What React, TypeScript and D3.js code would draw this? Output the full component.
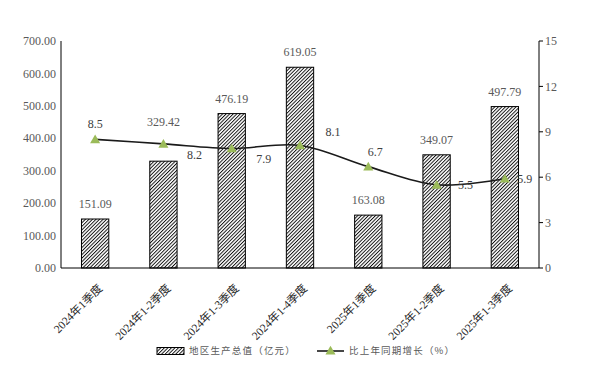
import React from 'react';
import * as d3 from 'd3';

const categories = ['2024年1季度', '2024年1-2季度', '2024年1-3季度', '2024年1-4季度', '2025年1季度', '2025年1-2季度', '2025年1-3季度'];
const gdpValues = [151.09, 329.42, 476.19, 619.05, 163.08, 349.07, 497.79];
const growthValues = [8.5, 8.2, 7.9, 8.1, 6.7, 5.5, 5.9];
const leftTicks = [0, 100, 200, 300, 400, 500, 600, 700];
const rightTicks = [0, 3, 6, 9, 12, 15];
const barSeriesName = '地区生产总值（亿元）';
const lineSeriesName = '比上年同期增长（%）';

// label nudges (layout only): growth labels as (dx, dy) from the point,
// bar labels as the baseline gap above the bar top
const growthLabelOffsets: [number, number][] = [
  [0, -16], [31, 11], [32, 10], [33, -14], [7, -15], [29, 0], [20, 0],
];
const barLabelGaps = [11, 35, 11, 11, 11, 11, 11];

const W = 590;
const H = 386;
const margin = { left: 61, right: 51, top: 41, bottom: 118 };
const serif = '"Liberation Serif", "Times New Roman", "Noto Sans CJK SC", serif';
const cjk = '"Noto Sans CJK SC", sans-serif';

export default function App() {
  const x0 = margin.left;
  const x1 = W - margin.right;
  const yTop = margin.top;
  const yBottom = H - margin.bottom;

  const x = d3.scaleBand<string>().domain(categories).range([x0, x1]).paddingInner(0.6).paddingOuter(0.3);
  const yLeft = d3.scaleLinear().domain([0, 700]).range([yBottom, yTop]);
  const yRight = d3.scaleLinear().domain([0, 15]).range([yBottom, yTop]);
  const cx = (c: string) => (x(c) ?? 0) + x.bandwidth() / 2;

  const line = d3.line<number>()
    .x((_, i) => cx(categories[i]))
    .y(d => yRight(d))
    .curve(d3.curveCatmullRom.alpha(0.5));

  const tri = d3.symbol().type(d3.symbolTriangle).size(44)();

  return (
    <svg width={W} height={H} style={{ position: 'absolute', left: 0, top: 0, background: '#fff' }}>
      <defs>
        <pattern id="hatch" width="2.5" height="2.5" patternUnits="userSpaceOnUse" patternTransform="rotate(45)">
          <rect width="2.5" height="2.5" fill="#fff" />
          <line x1="0.5" y1="0" x2="0.5" y2="2.5" stroke="#000" strokeWidth="0.9" />
        </pattern>
      </defs>

      {/* left axis labels */}
      {leftTicks.map(t => (
        <text key={'l' + t} x={x0 - 5} y={yLeft(t)} dy="0.35em" textAnchor="end"
          fontFamily={serif} fontSize={12} fill="#595959">{t.toFixed(2)}</text>
      ))}
      {/* right axis */}
      {rightTicks.map(t => (
        <g key={'r' + t}>
          <line x1={x1} x2={x1 + 4} y1={yRight(t)} y2={yRight(t)} stroke="#000" />
          <text x={x1 + 6} y={yRight(t)} dy="0.35em" fontFamily={serif} fontSize={12} fill="#595959">{t}</text>
        </g>
      ))}

      {/* bars */}
      {gdpValues.map((v, i) => (
        <g key={'b' + i}>
          <rect x={x(categories[i])} y={yLeft(v)} width={x.bandwidth()} height={yBottom - yLeft(v)}
            fill="url(#hatch)" stroke="#000" strokeWidth={1} />
          <text x={cx(categories[i])} y={yLeft(v) - barLabelGaps[i]} textAnchor="middle"
            fontFamily={serif} fontSize={12} fill="#595959">{v.toFixed(2)}</text>
        </g>
      ))}

      {/* axis lines */}
      <line x1={x0} x2={x0} y1={yTop} y2={yBottom} stroke="#000" />
      <line x1={x1} x2={x1} y1={yTop} y2={yBottom} stroke="#000" />
      <line x1={x0} x2={x1} y1={yBottom} y2={yBottom} stroke="#000" />

      {/* growth line */}
      <path d={line(growthValues) ?? ''} fill="none" stroke="#1a1a1a" strokeWidth={1.6} />
      {growthValues.map((v, i) => (
        <path key={'m' + i} d={tri ?? ''} transform={`translate(${cx(categories[i])},${yRight(v) + 1})`} fill="#9BBB59" />
      ))}
      {growthValues.map((v, i) => (
        <text key={'g' + i} x={cx(categories[i]) + growthLabelOffsets[i][0]} y={yRight(v) + growthLabelOffsets[i][1]}
          dy="0.35em" textAnchor="middle" fontFamily={serif} fontSize={12} fill="#404040">{v}</text>
      ))}

      {/* category labels */}
      {categories.map(c => (
        <text key={c} transform={`translate(${cx(c) + 8},${yBottom + 21}) rotate(-45)`} textAnchor="end"
          fontFamily={serif} fontSize={11.5} fill="#262626">{c}</text>
      ))}

      {/* legend */}
      <g transform="translate(157,351)">
        <rect x={0} y={-3.5} width={27} height={7} fill="url(#hatch)" stroke="#000" strokeWidth={1} />
        <text x={32} y={0} dy="0.35em" fontFamily={cjk} fontSize={9.5} letterSpacing={1.2} fill="#595959">{barSeriesName}</text>
        <line x1={160} x2={187} y1={0} y2={0} stroke="#1a1a1a" strokeWidth={1.6} />
        <path d={tri ?? ''} transform="translate(173.5,0.5)" fill="#9BBB59" />
        <text x={192} y={0} dy="0.35em" fontFamily={cjk} fontSize={9.5} letterSpacing={1.2} fill="#595959">{lineSeriesName}</text>
      </g>
    </svg>
  );
}
